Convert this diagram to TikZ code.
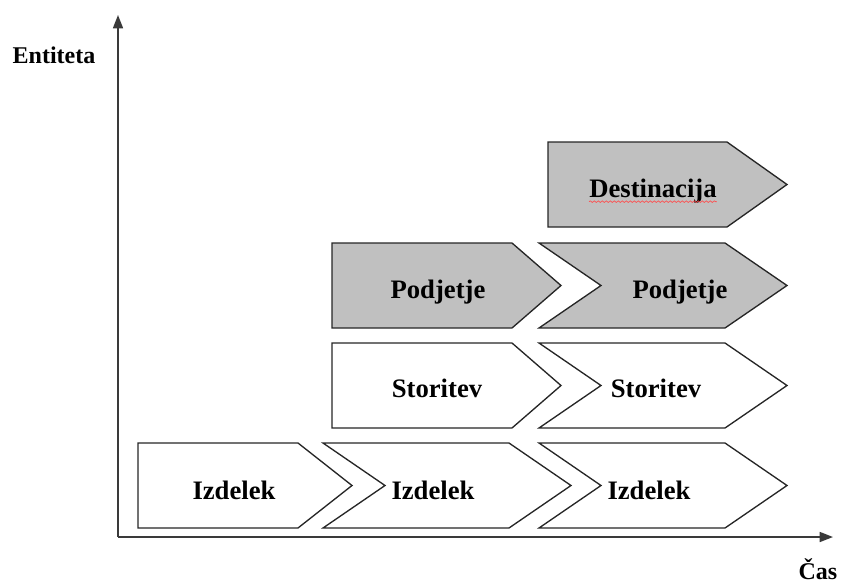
\documentclass[tikz,border=0pt]{standalone}
\usepackage{fontspec}
\setmainfont{Liberation Serif}
\usetikzlibrary{arrows.meta,decorations.pathmorphing}
\definecolor{shade}{HTML}{C0C0C0}
\definecolor{axiscolor}{HTML}{3A3A3A}
\tikzset{
  box/.style={draw=black!85,line width=1pt,fill=white},
  shaded/.style={box,fill=shade},
  lbl/.style={font=\bfseries\fontsize{20}{24}\selectfont,inner sep=0pt,anchor=base},
  axislbl/.style={font=\bfseries\fontsize{18}{22}\selectfont,inner sep=0pt,anchor=base},
  axis/.style={draw=axiscolor,line width=1.2pt,-{Triangle[length=10pt,width=7.5pt]}}
}

\begin{document}
\begin{tikzpicture}[x=.75pt,y=-.75pt]
\useasboundingbox (0,0) rectangle (843,583);
% axes
\coordinate (origin) at (118,537);\coordinate (ytop) at (118,15);\coordinate (xend) at (833,537);
\draw[axis](origin)--(ytop);\draw[axis](origin)--(xend);
\node[axislbl] (entiteta) at (54,63) {Entiteta};
\node[axislbl] (cas) at (818,579) {Čas};
% first block of each row: flat left side
\foreach \l/\t/\s/\p/\st in {138/443/298/352/box,332/343/512/561/box,332/243/512/561/shaded,548/142/727/787/shaded}
  \draw[\st](\l,\t)--(\s,\t)--(\p,\t+42.5)--(\s,\t+85)--(\l,\t+85)--cycle;
% following blocks: notched chevrons
\foreach \l/\t/\st in {323/443/box,539/443/box,539/343/box,539/243/shaded}
  \draw[\st](\l,\t)--(\l+186,\t)--(\l+248,\t+42.5)--(\l+186,\t+85)--(\l,\t+85)--(\l+62,\t+42.5)--cycle;
% labels
\node[lbl] (izdelekA) at (234,499) {Izdelek};
\node[lbl] (izdelekB) at (433,499) {Izdelek};
\node[lbl] (izdelekC) at (649,499) {Izdelek};
\node[lbl] (storitevA) at (437,397) {Storitev};
\node[lbl] (storitevB) at (656,397) {Storitev};
\node[lbl] (podjetjeA) at (438,298) {Podjetje};
\node[lbl] (podjetjeB) at (680,298) {Podjetje};
\node[lbl] (destinacija) at (653,197) {Destinacija};
\draw[red!70,line width=.5pt,decorate,decoration={snake,amplitude=.6pt,segment length=3pt}]
  ([yshift=-3.5pt]destinacija.base west)--([yshift=-3.5pt]destinacija.base east);
\end{tikzpicture}
\end{document}
